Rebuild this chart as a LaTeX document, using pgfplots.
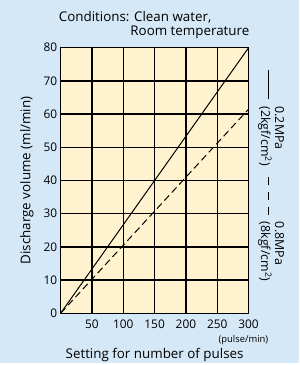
\documentclass[border=0pt]{standalone}
\usepackage{pgfplots}
\pgfplotsset{compat=1.18}
\usepackage{fontspec}
\setmainfont{Open Sans}
\definecolor{bgblue}{RGB}{213,232,247}
\definecolor{cream}{RGB}{255,243,207}
\begin{document}
\begin{tikzpicture}[x=1bp,y=1bp]
\fill[bgblue] (-61,-50) rectangle (240,315);
\begin{axis}[
  at={(0,0)}, anchor=south west,
  scale only axis, width=189bp, height=267bp,
  xmin=0, xmax=300, ymin=0, ymax=80,
  xtick={50,100,150,200,250,300},
  extra x ticks={0}, extra x tick labels={},
  ytick={0,10,20,30,40,50,60,70,80},
  grid=major,
  major grid style={black, line width=1.4bp},
  axis line style={black, line width=1.4bp},
  major tick length=0pt,
  axis background/.style={fill=cream},
  tick label style={font=\fontsize{12}{14}\selectfont},
  x tick label style={yshift=-3bp},
  /pgf/number format/assume math mode=true,
  clip=true,
]
\addplot[black, line width=1bp] coordinates {(0,0) (300,80)};
\addplot[black, line width=1bp, dash pattern=on 7bp off 4bp] coordinates {(0,0) (300,61.5)};
\end{axis}
% axis labels
\node[rotate=90, font=\fontsize{13.5}{15}\selectfont] at (-34,133.5) {Discharge volume (ml/min)};
\node[font=\fontsize{13.5}{15}\selectfont] at (94.5,-42) {Setting for number of pulses};
% titles
\node[anchor=west, font=\fontsize{13.5}{15}\selectfont, inner sep=0] at (-2,298) {Conditions: Clean water,};
\node[anchor=east, font=\fontsize{13.5}{15}\selectfont, inner sep=0] at (190,282) {Room temperature};
\node[anchor=east, font=\fontsize{9.5}{11}\selectfont, inner sep=0] at (209,-27) {(pulse/min)};
% legend
\draw[black, line width=1bp] (209,245) -- (209,215);
\node[rotate=-90, anchor=west, inner sep=0, font=\fontsize{12.5}{14}\selectfont] at (220,208) {0.2MPa};
\node[rotate=-90, anchor=west, inner sep=0, font=\fontsize{12.5}{14}\selectfont] at (205.5,208) {(2kgf/cm\textsuperscript{2})};
\draw[black, line width=1bp, dash pattern=on 8bp off 7bp] (209,137) -- (209,98);
\node[rotate=-90, anchor=west, inner sep=0, font=\fontsize{12.5}{14}\selectfont] at (220,92) {0.8MPa};
\node[rotate=-90, anchor=west, inner sep=0, font=\fontsize{12.5}{14}\selectfont] at (205.5,92) {(8kgf/cm\textsuperscript{2})};
\end{tikzpicture}
\end{document}
